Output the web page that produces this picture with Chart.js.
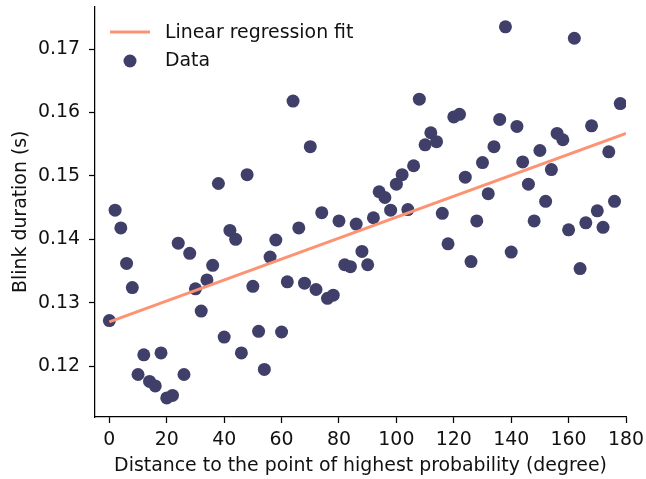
<!DOCTYPE html>
<html>
<head>
<meta charset="utf-8">
<script src="https://cdn.jsdelivr.net/npm/chart.js@4.4.1/dist/chart.umd.min.js"></script>
<style>
  html, body { margin: 0; padding: 0; background: #ffffff; }
  #wrap { width: 646px; height: 479px; }
</style>
</head>
<body>
<div id="wrap"><canvas id="c" width="646" height="479"></canvas></div>
<script>
const distances = [
  0, 2, 4, 6, 8, 10, 12, 14, 16, 18,
  20, 22, 24, 26, 28, 30, 32, 34, 36, 38,
  40, 42, 44, 46, 48, 50, 52, 54, 56, 58,
  60, 62, 64, 66, 68, 70, 72, 74, 76, 78,
  80, 82, 84, 86, 88, 90, 92, 94, 96, 98,
  100, 102, 104, 106, 108, 110, 112, 114, 116, 118,
  120, 122, 124, 126, 128, 130, 132, 134, 136, 138,
  140, 142, 144, 146, 148, 150, 152, 154, 156, 158,
  160, 162, 164, 166, 168, 170, 172, 174, 176, 178
];
const blinkDurations = [
  0.1272, 0.1446, 0.1418, 0.1362, 0.1324, 0.1187, 0.1218, 0.1176, 0.1169, 0.1221,
  0.1150, 0.1154, 0.1394, 0.1187, 0.1378, 0.1322, 0.1287, 0.1336, 0.1359, 0.1488,
  0.1246, 0.1414, 0.1400, 0.1221, 0.1502, 0.1326, 0.1255, 0.1195, 0.1372, 0.1399,
  0.1254, 0.1333, 0.1618, 0.1418, 0.1331, 0.1546, 0.1321, 0.1442, 0.1307, 0.1312,
  0.1429, 0.1360, 0.1357, 0.1424, 0.1381, 0.1360, 0.1434, 0.1475, 0.1466, 0.1446,
  0.1487, 0.1502, 0.1447, 0.1516, 0.1621, 0.1549, 0.1568, 0.1554, 0.1441, 0.1393,
  0.1593, 0.1597, 0.1498, 0.1365, 0.1429, 0.1521, 0.1472, 0.1546, 0.1589, 0.1735,
  0.1380, 0.1578, 0.1522, 0.1487, 0.1429, 0.1540, 0.1460, 0.1510, 0.1567, 0.1557,
  0.1415, 0.1717, 0.1354, 0.1426, 0.1579, 0.1445, 0.1419, 0.1538, 0.1460, 0.1614
];
const fitX = [0, 180];
const fitY = [0.1270, 0.1567];
const xTicks = [0, 20, 40, 60, 80, 100, 120, 140, 160, 180];
const yTicks = [0.12, 0.13, 0.14, 0.15, 0.16, 0.17];
const xTitle = 'Distance to the point of highest probability (degree)';
const yTitle = 'Blink duration (s)';
const fitLabel = 'Linear regression fit';
const dataLabel = 'Data';

const DOT = '#3f3f69';
const LINE = '#fc9373';
const FONT = 'DejaVu Sans';
const FS = 18.9;

const scatterPoints = distances.map((d, i) => ({ x: d, y: blinkDurations[i] }));
const fitPoints = fitX.map((d, i) => ({ x: d, y: fitY[i] }));

const legendPlugin = {
  id: 'innerLegend',
  afterDraw(chart) {
    const ctx = chart.ctx;
    ctx.save();
    ctx.strokeStyle = LINE;
    ctx.lineWidth = 3;
    ctx.beginPath();
    ctx.moveTo(110, 32);
    ctx.lineTo(150, 32);
    ctx.stroke();
    ctx.fillStyle = DOT;
    ctx.beginPath();
    ctx.arc(130, 61, 6.5, 0, Math.PI * 2);
    ctx.fill();
    ctx.fillStyle = '#111';
    ctx.font = FS + 'px "' + FONT + '"';
    ctx.textAlign = 'left';
    ctx.textBaseline = 'alphabetic';
    ctx.fillText(fitLabel, 165, 38);
    ctx.fillText(dataLabel, 165, 66);
    ctx.restore();
  }
};

new Chart(document.getElementById('c'), {
  type: 'scatter',
  data: {
    datasets: [
      {
        type: 'line',
        label: fitLabel,
        data: fitPoints,
        borderColor: LINE,
        borderWidth: 3,
        pointRadius: 0,
        fill: false,
        order: 0
      },
      {
        type: 'scatter',
        label: dataLabel,
        data: scatterPoints,
        backgroundColor: DOT,
        borderWidth: 0,
        pointRadius: 6.5,
        pointHoverRadius: 6.5,
        order: 1
      }
    ]
  },
  options: {
    responsive: false,
    animation: false,
    layout: { padding: { left: 0, right: 20, top: 5, bottom: 0 } },
    plugins: { legend: { display: false }, tooltip: { enabled: false } },
    scales: {
      x: {
        type: 'linear',
        min: -5,
        max: 180,
        afterBuildTicks: (s) => { s.ticks = xTicks.map(v => ({ value: v })); },
        afterFit: (s) => { s.height = 62; s.paddingLeft = 0; s.paddingRight = 0; },
        grid: { display: true, drawOnChartArea: false, drawTicks: true, tickLength: 6, tickColor: '#000', tickWidth: 1.25 },
        border: { display: true, color: '#000', width: 1.25 },
        ticks: { color: '#111', font: { family: FONT, size: FS }, padding: 6, maxRotation: 0, autoSkip: false,
                 callback: (v) => String(v) },
        title: { display: true, text: xTitle, color: '#111', font: { family: FONT, size: FS }, padding: { top: 0, bottom: 2 } }
      },
      y: {
        type: 'linear',
        min: 0.1120,
        max: 0.1767,
        afterBuildTicks: (s) => { s.ticks = yTicks.map(v => ({ value: v })); },
        afterFit: (s) => { s.width = 95; s.paddingTop = 0; s.paddingBottom = 0; },
        grid: { display: true, drawOnChartArea: false, drawTicks: true, tickLength: 6, tickColor: '#000', tickWidth: 1.25 },
        border: { display: true, color: '#000', width: 1.25 },
        ticks: { color: '#111', font: { family: FONT, size: FS }, padding: 9, autoSkip: false,
                 callback: (v) => v.toFixed(2) },
        title: { display: true, text: yTitle, color: '#111', font: { family: FONT, size: FS }, padding: { top: 10, bottom: 0 } }
      }
    }
  },
  plugins: [legendPlugin]
});
</script>
</body>
</html>
